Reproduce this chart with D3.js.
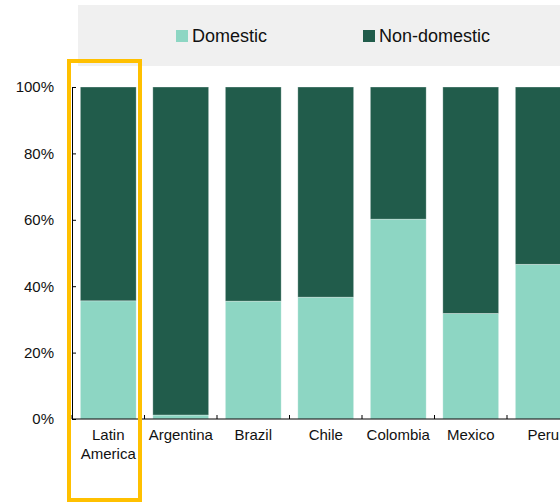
<!DOCTYPE html>
<html>
<head>
    <script src="https://d3js.org/d3.v7.min.js"></script>
    <style>
        body { margin: 0; background: white; }
        text { font-family: "Liberation Sans", Arial, sans-serif; fill: #111; }
        .tick-label { font-size: 15px; }
        .legend-label { font-size: 18px; }
    </style>
</head>
<body>
    <script>
        // chart data (share of total, %)
        const categories = ['Latin America', 'Argentina', 'Brazil', 'Chile', 'Colombia', 'Mexico', 'Peru'];
        const domestic = [35.6, 1.2, 35.5, 36.7, 60.2, 31.8, 46.6];
        const nonDomestic = domestic.map(d => 100 - d);
        const yTicks = [0, 20, 40, 60, 80, 100];
        const seriesNames = ['Domestic', 'Non-domestic'];
        const colors = ['#8dd6c3', '#215c4b'];

        const width = 560;
        const height = 503;
        const plotLeft = 72, plotTop = 87, plotBottom = 419;
        const step = 72.5;

        const svg = d3.select('body').append('svg')
            .attr('width', width)
            .attr('height', height);

        // legend band
        svg.append('rect')
            .attr('x', 78).attr('y', 5)
            .attr('width', width - 78).attr('height', 61)
            .attr('fill', '#f0f0f0');

        const legendX = [176, 363];
        seriesNames.forEach((name, i) => {
            svg.append('rect')
                .attr('x', legendX[i]).attr('y', 30)
                .attr('width', 12).attr('height', 12)
                .attr('fill', colors[i]);
            svg.append('text')
                .attr('class', 'legend-label')
                .attr('x', legendX[i] + 16).attr('y', 42)
                .text(name);
        });

        const x = d3.scaleBand()
            .domain(categories)
            .range([plotLeft, plotLeft + step * categories.length])
            .paddingInner(0.23)
            .paddingOuter(0.115);

        const y = d3.scaleLinear()
            .domain([0, 100])
            .range([plotBottom, plotTop]);

        const rows = categories.map((c, i) => ({ cat: c, Domestic: domestic[i], 'Non-domestic': nonDomestic[i] }));
        const stacked = d3.stack().keys(seriesNames)(rows);

        svg.append('g')
            .selectAll('g')
            .data(stacked)
            .enter().append('g')
            .attr('fill', (d, i) => colors[i])
            .selectAll('rect')
            .data(d => d)
            .enter().append('rect')
            .attr('x', d => x(d.data.cat))
            .attr('width', x.bandwidth())
            .attr('y', d => y(d[1]))
            .attr('height', d => y(d[0]) - y(d[1]))
            .attr('stroke', 'rgba(255,255,255,0.45)')
            .attr('stroke-width', 0.7);

        // y axis, ticks pointing inward
        const yAxis = svg.append('g')
            .attr('transform', `translate(${plotLeft},0)`)
            .call(d3.axisLeft(y).tickValues(yTicks).tickFormat(d => d + '%')
                .tickSizeInner(-4).tickSizeOuter(0).tickPadding(18));
        yAxis.select('.domain').attr('stroke', '#000');
        yAxis.selectAll('line').attr('stroke', '#000');
        yAxis.selectAll('text')
            .attr('class', 'tick-label')
            .style('font-family', '"Liberation Sans", Arial, sans-serif')
            .style('font-size', '15px')
            .attr('fill', '#111');

        // x axis line and boundary ticks
        svg.append('line')
            .attr('x1', plotLeft).attr('x2', width)
            .attr('y1', plotBottom).attr('y2', plotBottom)
            .attr('stroke', '#000');

        svg.append('g')
            .selectAll('line')
            .data(categories)
            .enter().append('line')
            .attr('x1', d => x(d) - x.step() * x.paddingInner() / 2)
            .attr('x2', d => x(d) - x.step() * x.paddingInner() / 2)
            .attr('y1', plotBottom).attr('y2', plotBottom - 4)
            .attr('stroke', '#000');

        const xLabels = svg.append('g')
            .selectAll('text')
            .data(categories)
            .enter().append('text')
            .attr('class', 'tick-label')
            .attr('text-anchor', 'middle')
            .attr('x', d => x(d) + x.bandwidth() / 2)
            .attr('y', 440);

        xLabels.each(function (d) {
            const words = d === 'Latin America' ? ['Latin', 'America'] : [d];
            const t = d3.select(this);
            words.forEach((w, i) => {
                t.append('tspan')
                    .attr('x', x(d) + x.bandwidth() / 2)
                    .attr('dy', i === 0 ? 0 : 19)
                    .text(w);
            });
        });

        // highlight box round the regional aggregate
        svg.append('rect')
            .attr('x', 69).attr('y', 61)
            .attr('width', 71).attr('height', 439)
            .attr('fill', 'none')
            .attr('stroke', '#ffc000')
            .attr('stroke-width', 4);
    </script>
</body>
</html>
